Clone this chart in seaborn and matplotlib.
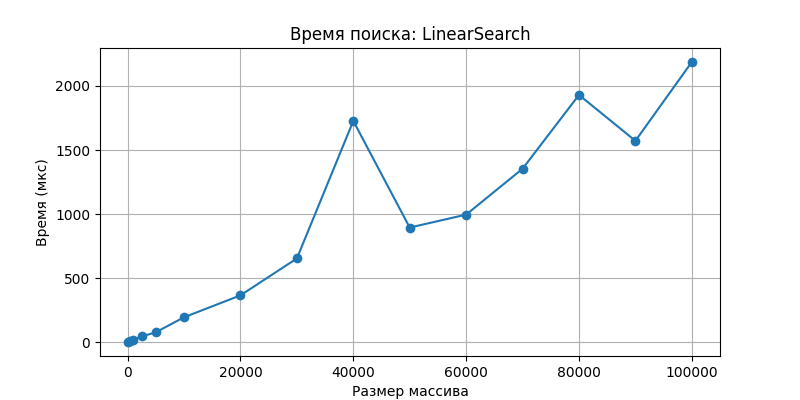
import matplotlib
matplotlib.use("Agg")
import matplotlib.pyplot as plt
import seaborn as sns

sizes = [100, 500, 1000, 2500, 5000, 10000, 20000, 30000, 40000, 50000,
         60000, 70000, 80000, 90000, 100000]
times = [2, 8, 20, 45, 78, 195, 366, 654, 1727, 895, 996, 1354, 1930, 1572, 2187]

fig, ax = plt.subplots(figsize=(8, 4), dpi=100)
sns.lineplot(x=sizes, y=times, marker="o", markersize=7, markeredgewidth=0,
             color="#1f77b4", ax=ax)
ax.set_title("Время поиска: LinearSearch")
ax.set_xlabel("Размер массива")
ax.set_ylabel("Время (мкс)")
ax.grid(True)
fig.subplots_adjust(left=0.125, right=0.9, top=0.88, bottom=0.11)
fig.savefig("out.png")
